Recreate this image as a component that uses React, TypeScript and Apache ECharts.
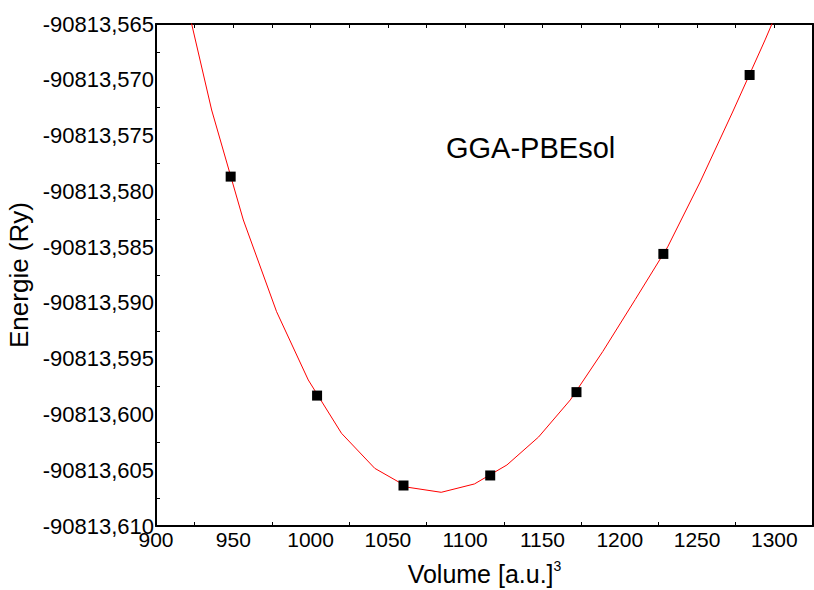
import React, { useEffect, useRef } from "react";
import * as echarts from "echarts";

// Measured data points (volume in a.u.^3, energy in Ry)
const volumes = [948.3, 1004.2, 1060.1, 1116.2, 1172.0, 1228.2, 1284.0];
const energies = [-90813.57868, -90813.59831, -90813.60637, -90813.60547, -90813.598, -90813.58561, -90813.56957];

// Fitted curve vertices
const fitVolumes = [915, 936, 956.5, 978, 998.5, 1020, 1041.5, 1063, 1084.5, 1106, 1127, 1147.5, 1168, 1189, 1210, 1231, 1252, 1273, 1294, 1315];
const fitEnergies = [
  -90813.56018, -90813.57271, -90813.58257, -90813.59079, -90813.59691, -90813.60169, -90813.60483,
  -90813.60653, -90813.60698, -90813.60623, -90813.60453, -90813.60202, -90813.5987, -90813.59436,
  -90813.5897, -90813.58498, -90813.57916, -90813.57289, -90813.56643, -90813.55962,
];

const xTitle = "Volume [a.u.]";
const xTitleSup = "3";
const yTitle = "Energie (Ry)";
const annotation = "GGA-PBEsol";

const FONT = '"Liberation Sans", Arial, sans-serif';

export default function App() {
  const ref = useRef<HTMLDivElement>(null);
  useEffect(() => {
    if (!ref.current) return;
    const chart = echarts.init(ref.current, undefined, { renderer: "svg" });
    const axisLine = { show: true, lineStyle: { color: "#000", width: 2 } };
    chart.setOption({
      animation: false,
      backgroundColor: "#fff",
      grid: { left: 156, right: 1, top: 24, bottom: 64, containLabel: false, outerBoundsMode: "none" },
      xAxis: [
        {
          type: "value",
          min: 900,
          max: 1325,
          interval: 50,
          position: "bottom",
          axisLine,
          axisTick: { show: false, inside: true },
          minorTick: { show: true, splitNumber: 2, length: 4, lineStyle: { color: "#000", width: 1 } },
          splitLine: { show: false },
          axisLabel: {
            showMaxLabel: false,
            color: "#000",
            fontSize: 21,
            fontFamily: FONT,
            margin: 3,
            formatter: (v: number) => String(Math.round(v)),
          },
          name: `{a|${xTitle}}{s|${xTitleSup}}`,
          nameLocation: "middle",
          nameGap: 33,
          nameTextStyle: {
            rich: {
              a: { fontSize: 25, fontFamily: FONT, color: "#000", lineHeight: 30 },
              s: { fontSize: 14, fontFamily: FONT, color: "#000", verticalAlign: "top", lineHeight: 16 },
            },
          },
        },
        {
          type: "value",
          min: 900,
          max: 1325,
          interval: 50,
          position: "top",
          axisLine,
          axisTick: { show: true, inside: true, length: 4, lineStyle: { color: "#000" } },
          minorTick: { show: true, splitNumber: 2, length: 4, lineStyle: { color: "#000" } },
          splitLine: { show: false },
          axisLabel: { show: false },
        },
      ],
      yAxis: [
        {
          type: "value",
          min: -90813.61,
          max: -90813.565,
          interval: 0.005,
          position: "left",
          axisLine,
          axisTick: { show: false, inside: true },
          minorTick: { show: true, splitNumber: 2, length: 4, lineStyle: { color: "#000", width: 1 } },
          splitLine: { show: false },
          axisLabel: {
            color: "#000",
            fontSize: 22,
            fontFamily: FONT,
            margin: 2,
            formatter: (v: number) => v.toFixed(3).replace(".", ","),
          },
          name: yTitle,
          nameLocation: "middle",
          nameGap: 121,
          nameTextStyle: { fontSize: 26, fontFamily: FONT, color: "#000" },
        },
        {
          type: "value",
          min: -90813.61,
          max: -90813.565,
          interval: 0.005,
          position: "right",
          axisLine,
          axisTick: { show: false },
          splitLine: { show: false },
          axisLabel: { show: false },
        },
      ],
      graphic: [
        {
          type: "text",
          left: 446,
          top: 133,
          style: { text: annotation, font: `29px ${FONT}`, fill: "#000" },
        },
      ],
      series: [
        {
          type: "line",
          xAxisIndex: 0,
          yAxisIndex: 0,
          data: fitVolumes.map((v, i) => [v, fitEnergies[i]]),
          symbol: "none",
          clip: true,
          lineStyle: { color: "#ff0000", width: 1 },
          z: 2,
        },
        {
          type: "scatter",
          xAxisIndex: 0,
          yAxisIndex: 0,
          data: volumes.map((v, i) => [v, energies[i]]),
          symbol: "rect",
          symbolSize: 10,
          itemStyle: { color: "#000", opacity: 1 },
          z: 3,
        },
      ],
    });
    return () => chart.dispose();
  }, []);
  return (
    <div
      ref={ref}
      style={{ position: "absolute", left: 0, top: 0, width: 814, height: 590 }}
    />
  );
}
